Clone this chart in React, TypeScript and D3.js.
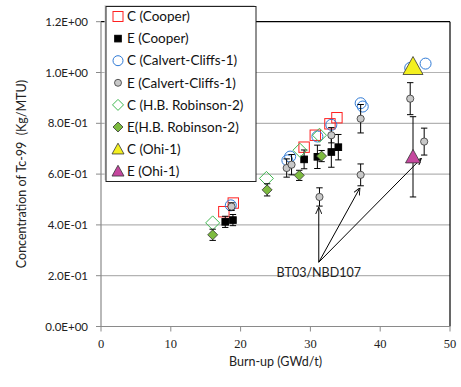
import React from "react";
import * as d3 from "d3";

// ---- data ----
const cCooperX = [17.6, 18.95, 29.1, 30.7, 32.8, 33.8];
const cCooperY = [0.452, 0.486, 0.706, 0.753, 0.798, 0.822];

const eCooperX = [17.8, 18.9, 29.1, 31.0, 33.0, 34.0];
const eCooperY = [0.412, 0.419, 0.658, 0.668, 0.687, 0.706];
const eCooperErr = [0.022, 0.022, 0.037, 0.046, 0.06, 0.05];

const cCalvertX = [18.6, 26.7, 27.1, 31.0, 33.0, 37.2, 37.5, 44.3, 46.5];
const cCalvertY = [0.477, 0.654, 0.669, 0.748, 0.794, 0.879, 0.866, 1.018, 1.035];

const eCalvertX = [18.7, 26.6, 27.3, 33.0, 31.3, 37.2, 37.2, 44.3, 46.3];
const eCalvertY = [0.472, 0.624, 0.637, 0.753, 0.51, 0.818, 0.597, 0.897, 0.728];
const eCalvertErr = [0.015, 0.036, 0.04, 0.03, 0.036, 0.056, 0.043, 0.063, 0.053];

const cRobinsonX = [16.0, 23.7, 28.5, 31.3];
const cRobinsonY = [0.408, 0.583, 0.694, 0.753];

const eRobinsonX = [16.0, 23.8, 28.4, 31.6];
const eRobinsonY = [0.361, 0.538, 0.595, 0.671];
const eRobinsonErr = [0.022, 0.024, 0.02, 0.022];

const cOhiX = [44.7];
const cOhiY = [1.024];

const eOhiX = [44.7];
const eOhiY = [0.668];
const eOhiErr = [0.158];

const xTicks = [0, 10, 20, 30, 40, 50];
const yTicks = [0, 0.2, 0.4, 0.6, 0.8, 1.0, 1.2];
const yTickLabels = ["0.0E+00", "2.0E-01", "4.0E-01", "6.0E-01", "8.0E-01", "1.0E+00", "1.2E+00"];

const legendLabels = [
  "C (Cooper)",
  "E (Cooper)",
  "C (Calvert-Cliffs-1)",
  "E (Calvert-Cliffs-1)",
  "C (H.B. Robinson-2)",
  "E(H.B. Robinson-2)",
  "C (Ohi-1)",
  "E (Ohi-1)",
];

const annotationText = "BT03/NBD107";
const annotationOrigin = [31.2, 0.253];
const annotationTargetsX = [31.2, 37.1, 45.9];
const annotationTargetsY = [0.47, 0.546, 0.662];

// ---- layout ----
const W = 461;
const H = 387;
const left = 101;
const right = 450;
const top = 21.7;
const bottom = 326.5;

const x = d3.scaleLinear().domain([0, 50]).range([left, right]);
const y = d3.scaleLinear().domain([0, 1.2]).range([bottom, top]);

const zip = (xs: number[], ys: number[], es?: number[]) =>
  xs.map((v, i) => ({ x: v, y: ys[i], e: es ? es[i] : 0 }));

type Shape = "square" | "circle" | "diamond" | "triangle";
interface Style {
  shape: Shape;
  size: number; // half-extent
  fill: string;
  stroke: string;
  sw: number;
}

const styles: Style[] = [
  { shape: "square", size: 5.2, fill: "none", stroke: "#ff2020", sw: 1 },
  { shape: "square", size: 3.3, fill: "#000", stroke: "#000", sw: 1 },
  { shape: "circle", size: 5.5, fill: "none", stroke: "#2f7ad6", sw: 1 },
  { shape: "circle", size: 3.6, fill: "#c8c8c8", stroke: "#333", sw: 0.8 },
  { shape: "diamond", size: 7, fill: "none", stroke: "#3fb850", sw: 1 },
  { shape: "diamond", size: 5, fill: "#7dbb3f", stroke: "#333", sw: 0.8 },
  { shape: "triangle", size: 10, fill: "#f4f020", stroke: "#333", sw: 0.8 },
  { shape: "triangle", size: 7.5, fill: "#c5479e", stroke: "#333", sw: 0.8 },
];

const legendStyles: Style[] = [
  { shape: "square", size: 5, fill: "#fff", stroke: "#ff2020", sw: 1 },
  { shape: "square", size: 3.3, fill: "#000", stroke: "#000", sw: 1 },
  { shape: "circle", size: 5, fill: "#fff", stroke: "#2f7ad6", sw: 1 },
  { shape: "circle", size: 3.5, fill: "#c8c8c8", stroke: "#333", sw: 0.8 },
  { shape: "diamond", size: 5.5, fill: "#fff", stroke: "#3fb850", sw: 1 },
  { shape: "diamond", size: 5, fill: "#7dbb3f", stroke: "#333", sw: 0.8 },
  { shape: "triangle", size: 6, fill: "#f4f020", stroke: "#333", sw: 0.8 },
  { shape: "triangle", size: 6, fill: "#c5479e", stroke: "#333", sw: 0.8 },
];

const series = [
  zip(cCooperX, cCooperY),
  zip(eCooperX, eCooperY, eCooperErr),
  zip(cCalvertX, cCalvertY),
  zip(eCalvertX, eCalvertY, eCalvertErr),
  zip(cRobinsonX, cRobinsonY),
  zip(eRobinsonX, eRobinsonY, eRobinsonErr),
  zip(cOhiX, cOhiY),
  zip(eOhiX, eOhiY, eOhiErr),
];

function Marker({ cx, cy, s }: { cx: number; cy: number; s: Style }) {
  const r = s.size;
  if (s.shape === "circle")
    return <circle cx={cx} cy={cy} r={r} fill={s.fill} stroke={s.stroke} strokeWidth={s.sw} />;
  if (s.shape === "square")
    return (
      <rect x={cx - r} y={cy - r} width={2 * r} height={2 * r} fill={s.fill} stroke={s.stroke} strokeWidth={s.sw} />
    );
  let d: string;
  if (s.shape === "diamond") {
    d = `M${cx},${cy - r}L${cx + r},${cy}L${cx},${cy + r}L${cx - r},${cy}Z`;
  } else {
    const h = r * 1.8;
    d = `M${cx},${cy - h * 0.55}L${cx + r},${cy + h * 0.45}L${cx - r},${cy + h * 0.45}Z`;
  }
  return <path d={d} fill={s.fill} stroke={s.stroke} strokeWidth={s.sw} strokeLinejoin="miter" />;
}

function ErrorBar({ cx, y0, y1 }: { cx: number; y0: number; y1: number }) {
  const c = 3.2;
  return (
    <g stroke="#000" strokeWidth={1}>
      <line x1={cx} x2={cx} y1={y0} y2={y1} />
      <line x1={cx - c} x2={cx + c} y1={y0} y2={y0} />
      <line x1={cx - c} x2={cx + c} y1={y1} y2={y1} />
    </g>
  );
}

export default function App() {
  const ox = x(annotationOrigin[0]);
  const oy = y(annotationOrigin[1]);
  const legX = 106;
  const legY = 6.5;
  const legW = 150;
  const legH = 175;
  const rowH = 22.1;
  return (
    <div style={{ position: "absolute", left: 0, top: 0 }}>
      <svg width={W} height={H} style={{ display: "block", background: "#fff" }} fontFamily="Lato, 'Open Sans', sans-serif">
        <defs>
          <marker id="arr" viewBox="0 0 10 10" refX="10" refY="5" markerWidth="7" markerHeight="7" orient="auto-start-reverse" markerUnits="userSpaceOnUse">
            <path d="M0,0.5L10,5L0,9.5" fill="none" stroke="#000" strokeWidth={1.3} />
          </marker>
        </defs>
        {/* gridlines */}
        {yTicks.slice(1, -1).map((t) => (
          <line key={t} x1={left} x2={right} y1={y(t)} y2={y(t)} stroke="#b3b3b3" strokeWidth={1.2} />
        ))}
        {/* frame */}
        <line x1={left} x2={right} y1={top} y2={top} stroke="#000" strokeWidth={1.2} />
        <line x1={right} x2={right} y1={top} y2={bottom} stroke="#000" strokeWidth={1.2} />
        <line x1={left} x2={left} y1={top} y2={bottom} stroke="#8a8a8a" strokeWidth={1.2} />
        <line x1={left} x2={right} y1={bottom} y2={bottom} stroke="#8a8a8a" strokeWidth={1.2} />
        {/* y ticks */}
        {yTicks.map((t, i) => (
          <g key={t}>
            <line x1={left - 5} x2={left} y1={y(t)} y2={y(t)} stroke="#8a8a8a" />
            <text x={left - 13} y={y(t)} dy="0.35em" textAnchor="end" fontSize={11.5} fill="#222">
              {yTickLabels[i]}
            </text>
          </g>
        ))}
        {/* x ticks */}
        {xTicks.map((t) => (
          <g key={t}>
            <line x1={x(t)} x2={x(t)} y1={bottom} y2={bottom + 5} stroke="#8a8a8a" />
            <text x={x(t)} y={bottom + 17} dy="0.35em" textAnchor="middle" fontSize={12.5} fontFamily="'Liberation Serif', serif" fill="#222">
              {t}
            </text>
          </g>
        ))}
        <text x={(left + right) / 2} y={362} dy="0.35em" textAnchor="middle" fontSize={12.5} fill="#222">
          Burn-up (GWd/t)
        </text>
        <text transform={`translate(22,${(top + bottom) / 2}) rotate(-90)`} textAnchor="middle" dy="0.35em" fontSize={12.5} fill="#222" style={{ whiteSpace: "pre" }}>
          {"Concentration of Tc-99  (Kg/MTU)"}
        </text>
        {/* annotation */}
        {annotationTargetsX.map((tx, i) => (
          <line key={i} x1={ox} y1={oy} x2={x(tx)} y2={y(annotationTargetsY[i])} stroke="#000" strokeWidth={1} markerEnd="url(#arr)" />
        ))}
        <text x={ox} y={y(0.212)} dy="0.35em" textAnchor="middle" fontSize={12.5} fill="#222">
          {annotationText}
        </text>
        {/* series */}
        {series.map((pts, si) => (
          <g key={si}>
            {pts.map((p, i) =>
              p.e > 0 ? <ErrorBar key={"e" + i} cx={x(p.x)} y0={y(p.y - p.e)} y1={y(p.y + p.e)} /> : null
            )}
            {pts.map((p, i) => (
              <Marker key={i} cx={x(p.x)} cy={y(p.y)} s={styles[si]} />
            ))}
          </g>
        ))}
        {/* legend */}
        <rect x={legX - 1.5} y={legY - 1.5} width={legW} height={legH} fill="#d8d8d8" />
        <rect x={legX} y={legY} width={legW} height={legH} fill="#fff" stroke="#222" strokeWidth={1} />
        <g>
          <clipPath id="legclip">
            <rect x={legX} y={legY} width={legW} height={legH} />
          </clipPath>
          <g clipPath="url(#legclip)">
            {legendLabels.map((lab, i) => {
              const cy = legY + 10 + i * rowH;
              return (
                <g key={lab}>
                  <Marker cx={legX + 12} cy={cy} s={legendStyles[i]} />
                  <text x={legX + 21} y={cy} dy="0.35em" fontSize={13.5} fill="#111">
                    {lab}
                  </text>
                </g>
              );
            })}
          </g>
        </g>
      </svg>
    </div>
  );
}
